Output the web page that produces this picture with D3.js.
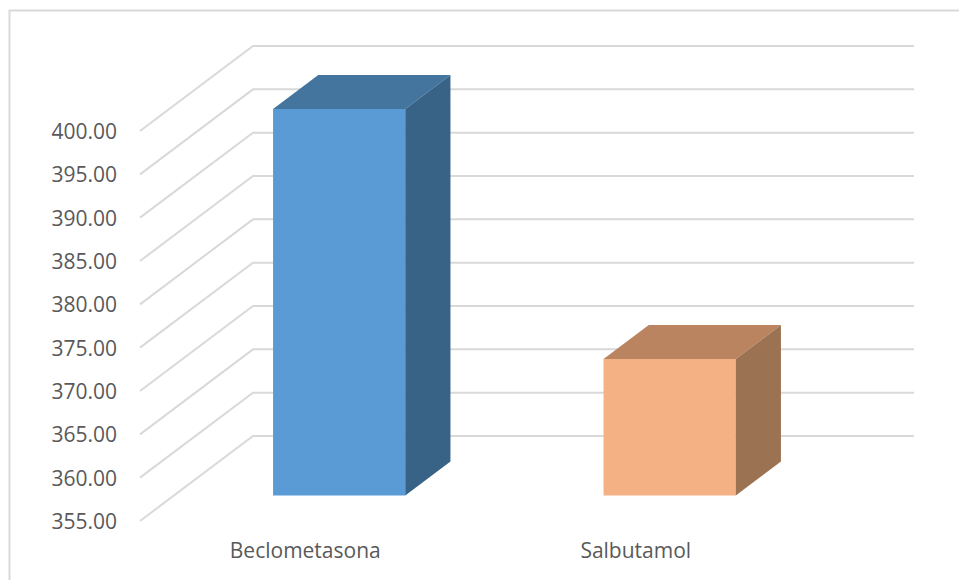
<!DOCTYPE html>
<html>
<head>
<meta charset="utf-8">
<script src="https://cdn.jsdelivr.net/npm/d3@7"></script>
<style>
  body { margin: 0; background: #fff; }
  svg { display: block; font-family: "Open Sans", "Noto Sans", sans-serif; }
</style>
</head>
<body>
<div id="chart"></div>
<script>
var categories = ["Beclometasona", "Salbutamol"];
var values = [399.6, 370.75];
var tickValues = [355, 360, 365, 370, 375, 380, 385, 390, 395, 400];
var frontColors = ["#5B9BD5", "#F4B183"];
var topColors = ["#44759F", "#BA8461"];
var sideColors = ["#386387", "#9C7352"];

function drawChart(containerId) {
    var width = 959, height = 580;
    // 3d offset of the full floor depth
    var depthX = 113, depthY = -85;
    var barFront = 0.3, barBack = 0.7;

    var svg = d3.select('#' + containerId).append("svg")
        .attr("width", width)
        .attr("height", height);

    // chart area border
    svg.append("rect")
        .attr("x", 9.5).attr("y", 10.5)
        .attr("width", 1000).attr("height", 700)
        .attr("fill", "none")
        .attr("stroke", "#D9D9D9")
        .attr("stroke-width", 2);

    var x = d3.scaleBand()
        .domain(categories)
        .range([140, 801])
        .paddingInner(0.6)
        .paddingOuter(0.3);

    var y = d3.scaleLinear()
        .domain([355, 400])
        .range([521, 131]);

    var left = 140, right = 801;

    // project (front x, value, depth fraction) to screen
    function px(xx, t) { return xx + depthX * t; }
    function py(v, t) { return y(v) + depthY * t; }

    var grid = svg.append("g")
        .attr("stroke", "#D9D9D9")
        .attr("stroke-width", 2)
        .attr("fill", "none");

    grid.selectAll("path")
        .data(tickValues)
        .join("path")
        .attr("d", function(v) {
            return "M" + px(left, 0) + "," + py(v, 0) +
                   "L" + px(left, 1) + "," + py(v, 1) +
                   "L" + px(right, 1) + "," + py(v, 1);
        });

    svg.append("g")
        .attr("font-size", 21)
        .attr("fill", "#595959")
        .attr("text-anchor", "end")
        .selectAll("text")
        .data(tickValues)
        .join("text")
        .attr("x", 117)
        .attr("y", d => y(d) + 8)
        .text(d => d3.format(".2f")(d));

    var bars = svg.append("g")
        .selectAll("g")
        .data(categories)
        .join("g");

    function poly(pts) {
        return "M" + pts.map(p => p[0] + "," + p[1]).join("L") + "Z";
    }

    bars.each(function(c, i) {
        var g = d3.select(this);
        var x0 = x(c), x1 = x(c) + x.bandwidth();
        var v = values[i];
        // front
        g.append("path")
            .attr("fill", frontColors[i])
            .attr("d", poly([
                [px(x0, barFront), py(355, barFront)],
                [px(x1, barFront), py(355, barFront)],
                [px(x1, barFront), py(v, barFront)],
                [px(x0, barFront), py(v, barFront)]
            ]));
        // top
        g.append("path")
            .attr("fill", topColors[i])
            .attr("d", poly([
                [px(x0, barFront), py(v, barFront)],
                [px(x1, barFront), py(v, barFront)],
                [px(x1, barBack), py(v, barBack)],
                [px(x0, barBack), py(v, barBack)]
            ]));
        // side
        g.append("path")
            .attr("fill", sideColors[i])
            .attr("d", poly([
                [px(x1, barFront), py(355, barFront)],
                [px(x1, barBack), py(355, barBack)],
                [px(x1, barBack), py(v, barBack)],
                [px(x1, barFront), py(v, barFront)]
            ]));
    });

    svg.append("g")
        .attr("font-size", 21)
        .attr("fill", "#595959")
        .attr("text-anchor", "middle")
        .selectAll("text")
        .data(categories)
        .join("text")
        .attr("x", d => x(d) + x.bandwidth() / 2)
        .attr("y", 558)
        .text(d => d);
}

drawChart('chart');
</script>
</body>
</html>
